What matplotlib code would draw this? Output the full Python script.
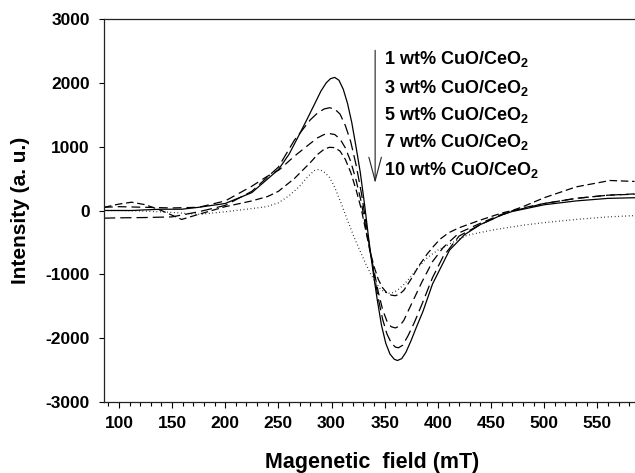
import numpy as np
import matplotlib
matplotlib.use("Agg")
import matplotlib.pyplot as plt

plt.rcParams["font.family"] = ["Liberation Sans", "DejaVu Sans"]
plt.rcParams["font.weight"] = "bold"
plt.rcParams["mathtext.default"] = "regular"
plt.rcParams["axes.unicode_minus"] = False

# EPR spectra (field in mT, intensity in a.u.)
x_1wt = [86, 100, 112, 125, 140, 159, 175, 200, 225, 250, 260, 270, 277, 285, 290, 295, 299, 303,
         307, 311, 315, 319, 323, 327, 331, 335, 339, 343, 347, 351, 355, 359, 362,
         366, 370, 375, 380, 386, 395, 411, 425, 440, 460, 470, 480, 500, 530, 560, 585]
y_1wt = [0, 0, 0, 10, 20, 20, 50, 110, 280, 640, 880, 1200, 1430, 1700, 1870, 2000, 2065, 2085,
         2040, 1900, 1680, 1380, 1000, 600, 100, -450, -950, -1400, -1800, -2080, -2250, -2330, -2350,
         -2320, -2220, -2030, -1820, -1580, -1150, -620, -380, -220, -70, -15, 20, 90, 150, 190, 200]

x_3wt = [86, 100, 125, 150, 175, 200, 225, 250, 265, 280, 287, 293, 298, 303,
         308, 313, 318, 323, 328, 332, 336, 340, 344, 348, 352, 356, 360, 363,
         367, 372, 378, 385, 395, 405, 420, 440, 460, 470, 480, 500, 530, 560, 585]
y_3wt = [-120, -115, -110, -100, -20, 80, 300, 680, 1100, 1420, 1530, 1590, 1610, 1590,
         1510, 1330, 1080, 720, 280, -150, -600, -1000, -1380, -1700, -1930, -2070, -2140, -2150,
         -2110, -1960, -1750, -1470, -1050, -720, -400, -220, -70, -10, 30, 110, 190, 240, 260]

x_5wt = [86, 100, 125, 150, 175, 200, 225, 239, 251, 265, 280, 287, 293, 298, 303,
         308, 313, 318, 323, 328, 332, 336, 340, 344, 348, 352, 356, 360,
         364, 368, 375, 385, 395, 405, 420, 440, 460, 470, 480, 500, 530, 560, 585]
y_5wt = [50, 60, 50, 40, 50, 150, 380, 530, 640, 850, 1050, 1140, 1190, 1205, 1190,
         1120, 980, 770, 480, 130, -250, -620, -950, -1280, -1550, -1730, -1820, -1840,
         -1810, -1720, -1470, -1120, -800, -580, -350, -200, -60, -5, 40, 110, 190, 240, 255]

x_7wt = [86, 100, 112, 125, 140, 159, 175, 200, 225, 240, 250, 265, 280, 287, 293, 298, 303,
         308, 313, 318, 323, 328, 332, 336, 340, 344, 348, 352, 356, 360,
         364, 368, 375, 382, 390, 396, 402, 410, 420, 440, 460, 470, 480, 500, 530, 562, 585]
y_7wt = [50, 100, 130, 90, 0, -140, -60, 60, 150, 220, 300, 500, 750, 880, 960, 990, 985,
         930, 800, 600, 330, 20, -300, -620, -880, -1080, -1210, -1290, -1325, -1335,
         -1310, -1250, -1070, -870, -680, -560, -450, -350, -270, -150, -40, 0, 60, 200, 370, 470, 455]

x_10wt = [86, 100, 125, 150, 176, 200, 225, 239, 250, 260, 270, 275, 280, 284, 287, 290, 294, 298,
          302, 306, 310, 314, 318, 322, 327, 332, 337, 342, 346, 350, 354, 358, 362,
          368, 375, 382, 390, 400, 427, 450, 480, 500, 530, 560, 585]
y_10wt = [0, 0, -10, -30, -60, -20, 30, 60, 120, 230, 380, 480, 570, 625, 640, 630, 590, 520,
          400, 240, 70, -110, -280, -450, -640, -830, -1000, -1140, -1230, -1280, -1295, -1285, -1250,
          -1160, -1030, -880, -740, -620, -390, -310, -230, -190, -140, -100, -80]

labels = ["1 wt% CuO/CeO$_2$", "3 wt% CuO/CeO$_2$", "5 wt% CuO/CeO$_2$",
          "7 wt% CuO/CeO$_2$", "10 wt% CuO/CeO$_2$"]

fig = plt.figure(figsize=(6.35, 4.73), dpi=100)
ax = fig.add_axes([104 / 635, 1 - 402 / 473, 1 - 104 / 635, 383 / 473])

lw = 0.9
ax.plot(x_1wt, y_1wt, color="black", lw=lw, linestyle="-")
ax.plot(x_3wt, y_3wt, color="black", lw=lw, linestyle=(0, (9, 4)))
ax.plot(x_5wt, y_5wt, color="black", lw=lw, linestyle=(0, (7, 4)))
ax.plot(x_7wt, y_7wt, color="black", lw=lw, linestyle=(0, (6, 3)))
ax.plot(x_10wt, y_10wt, color="black", lw=lw, linestyle=(0, (0.6, 2.2)))

ax.set_xlim(86, 585.4)
ax.set_ylim(-3000, 3000)
ax.set_xticks(np.arange(100, 551, 50))
ax.set_xticks(np.arange(90, 586, 10), minor=True)
ax.set_yticks(np.arange(-3000, 3001, 1000))

ax.spines["right"].set_visible(False)
for s in ["left", "top", "bottom"]:
    ax.spines[s].set_linewidth(0.9)
    ax.spines[s].set_color("#222222")

ax.tick_params(axis="x", which="major", direction="out", length=4.3, width=0.8,
               labelsize=12.5, pad=6)
ax.tick_params(axis="x", which="minor", direction="out", length=2.8, width=0.8)
ax.tick_params(axis="y", which="major", direction="out", length=3.8, width=0.8,
               labelsize=12.5, pad=6.5)
ax.tick_params(top=False)

ax.set_xlabel("Magenetic  field (mT)", fontsize=15.5, fontweight="bold")
ax.set_ylabel("Intensity (a. u.)", fontsize=15, fontweight="bold")
ax.xaxis.set_label_coords(0.505, -0.13)
ax.yaxis.set_label_coords(-0.14, 0.5)

# legend text and arrow
text_y = [2370, 1920, 1500, 1075, 630]
for t, ty in zip(labels, text_y):
    ax.text(349, ty, t, fontsize=13, fontweight="bold", va="center", ha="left")

ax.annotate("", xy=(341, 430), xytext=(341, 2510),
            arrowprops=dict(arrowstyle="->,head_length=1.7,head_width=0.45",
                            lw=0.8, color="#222222", shrinkA=0, shrinkB=0))

fig.savefig("out.png", dpi=100)
